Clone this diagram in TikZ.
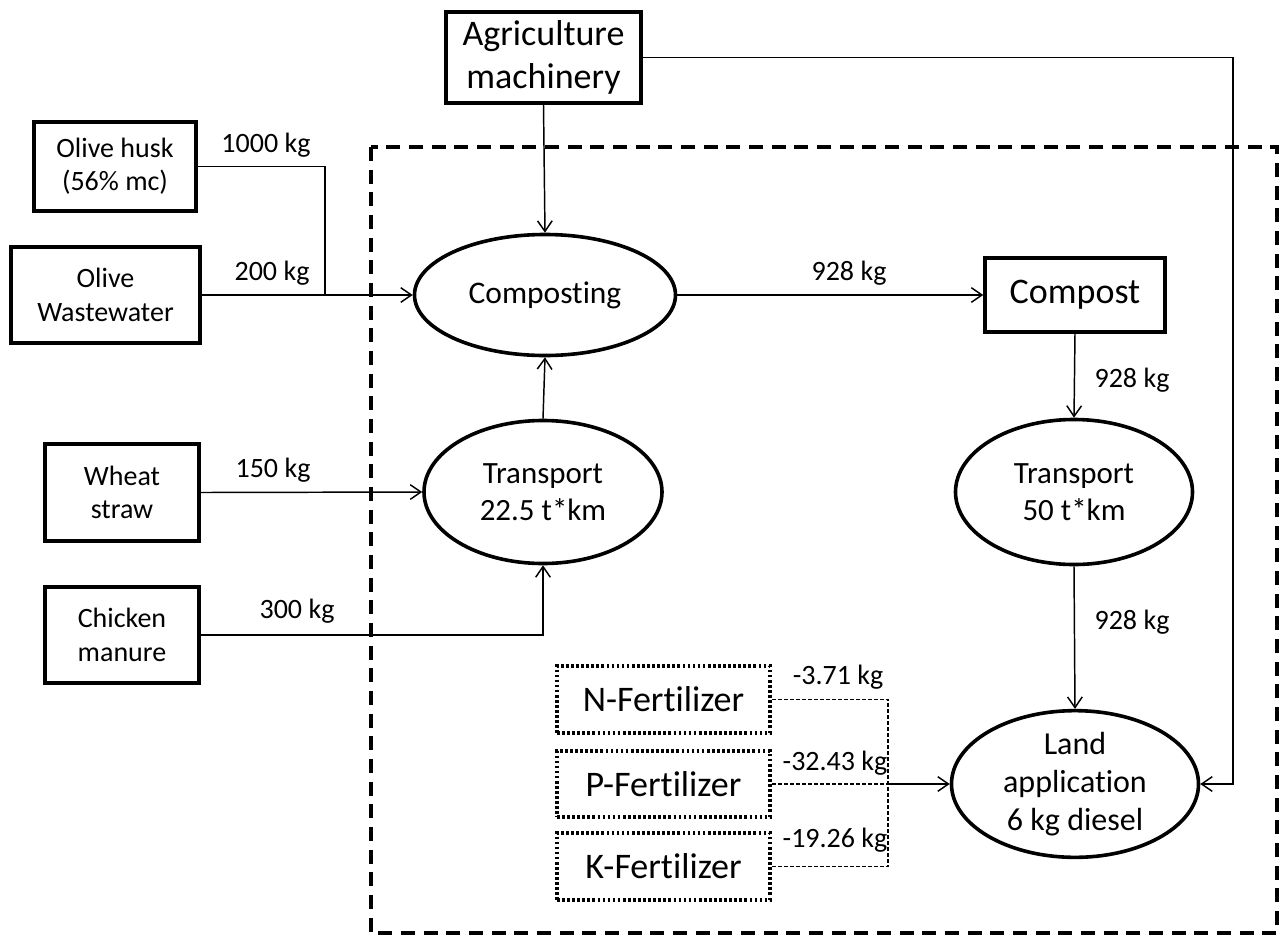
\documentclass[tikz,border=0pt]{standalone}
\usepackage{fontspec}
\setmainfont{Carlito}[Ligatures=NoCommon]
\usetikzlibrary{arrows.meta,shapes.geometric}
\newcommand\fbig{\fontsize{27}{32}\selectfont}
\newcommand\fmid{\fontsize{23.6}{28}\selectfont}
\newcommand\fsmall{\fontsize{21}{25}\selectfont}
\tikzset{
  pbox/.style={draw, line width=2.6pt, inner sep=0pt, align=center, font=\fsmall},
  bigbox/.style={draw, line width=2.6pt, inner sep=0pt, align=center, font=\fbig},
  fert/.style={draw, line width=2.8pt, dash pattern=on 2pt off 1.8pt, inner sep=0pt, align=center, font=\fbig},
  proc/.style={draw, ellipse, line width=2.7pt, inner sep=0pt, align=center, font=\fmid},
  arr/.style={-{Straight Barb[length=8pt,width=11pt]}, line width=1.1pt},
  plain/.style={line width=1.1pt},
  fline/.style={line width=0.8pt, dash pattern=on 3pt off 1.5pt},
  lbl/.style={inner sep=0pt, font=\fsmall},
  boundary/.style={line width=2.8pt, dash pattern=on 10.5pt off 6.5pt}
}
\begin{document}
\begin{tikzpicture}[x=0.75pt,y=-0.75pt]
\useasboundingbox (0,0) rectangle (1279,936);
% system boundary
\draw[boundary] (371,147) rectangle (1277,933);
% input boxes
\node[bigbox, minimum width=195*0.75pt, minimum height=91*0.75pt] (agri) at (543.5,57.5) {Agriculture\\machinery};
\node[pbox, minimum width=162*0.75pt, minimum height=89*0.75pt] (husk) at (115,166.5) {Olive husk\\(56\% mc)};
\node[pbox, minimum width=189*0.75pt, minimum height=96*0.75pt] (ww) at (105.5,295) {Olive\\Wastewater};
\node[pbox, minimum width=154*0.75pt, minimum height=97*0.75pt] (wheat) at (122,492.5) {Wheat\\straw};
\node[pbox, minimum width=154*0.75pt, minimum height=96*0.75pt] (chick) at (122,635) {Chicken\\manure};
\node[bigbox, minimum width=180*0.75pt, minimum height=74*0.75pt] (compost) at (1075,295) {Compost};
% processes
\node[proc, minimum width=261*0.75pt, minimum height=121*0.75pt] (comp) at (545,295) {Composting};
\node[proc, minimum width=238*0.75pt, minimum height=143*0.75pt, font=\fontsize{23.2}{27.5}\selectfont] (tr1) at (543,492) {Transport\\22.5 t*km};
\node[proc, minimum width=237*0.75pt, minimum height=145*0.75pt, font=\fontsize{23.2}{27.5}\selectfont] (tr2) at (1074,492) {Transport\\50 t*km};
\node[proc, minimum width=247*0.75pt, minimum height=133*0.75pt, font=\fontsize{24}{28.5}\selectfont] (land) at (1075,784) {Land\\application\\6 kg diesel};
% fertilizers
\node[fert, minimum width=213*0.75pt, minimum height=67*0.75pt] (nf) at (663.5,699.5) {N-Fertilizer};
\node[fert, minimum width=213*0.75pt, minimum height=66*0.75pt] (pf) at (663.5,784) {P-Fertilizer};
\node[fert, minimum width=213*0.75pt, minimum height=67*0.75pt] (kf) at (663.5,866.5) {K-Fertilizer};
% junctions
\coordinate (jn) at (325,295);
\coordinate (rc) at (1233,784);
\coordinate (fj) at (888,784);
% connectors
\draw[plain] (husk.east) -| (jn);
\draw[arr] (ww.east) -- (comp.west);
\draw[arr] (agri.south) -- (comp.north);
\draw[arr] (agri.east) -| (rc) -- (land.east);
\draw[arr] (comp.east) -- (compost.west);
\draw[arr] (compost.south) -- (tr2.north);
\draw[arr] (tr2.south) -- (land.north);
\draw[arr] (wheat.east) -- (tr1.west);
\draw[arr] (chick.east) -| (tr1.south);
\draw[arr] (tr1.north) -- (comp.south);
\draw[fline] (nf.east) -| (fj);
\draw[fline] (kf.east) -| (fj);
\draw[fline] (pf.east) -- (fj);
\draw[arr] (fj) -- (land.west);
% labels
\node[lbl] (l1) at (266,145) {1000 kg};
\node[lbl] (l2) at (272,273) {200 kg};
\node[lbl] (l3) at (273,470) {150 kg};
\node[lbl] (l4) at (297,611) {300 kg};
\node[lbl] (l5) at (849,273) {928 kg};
\node[lbl] (l6) at (1132,380) {928 kg};
\node[lbl] (l7) at (1132,622) {928 kg};
\node[lbl] (l8) at (838,677) {-3.71 kg};
\node[lbl] (l9) at (835,763) {-32.43 kg};
\node[lbl] (l10) at (835,840) {-19.26 kg};
\end{tikzpicture}
\end{document}
